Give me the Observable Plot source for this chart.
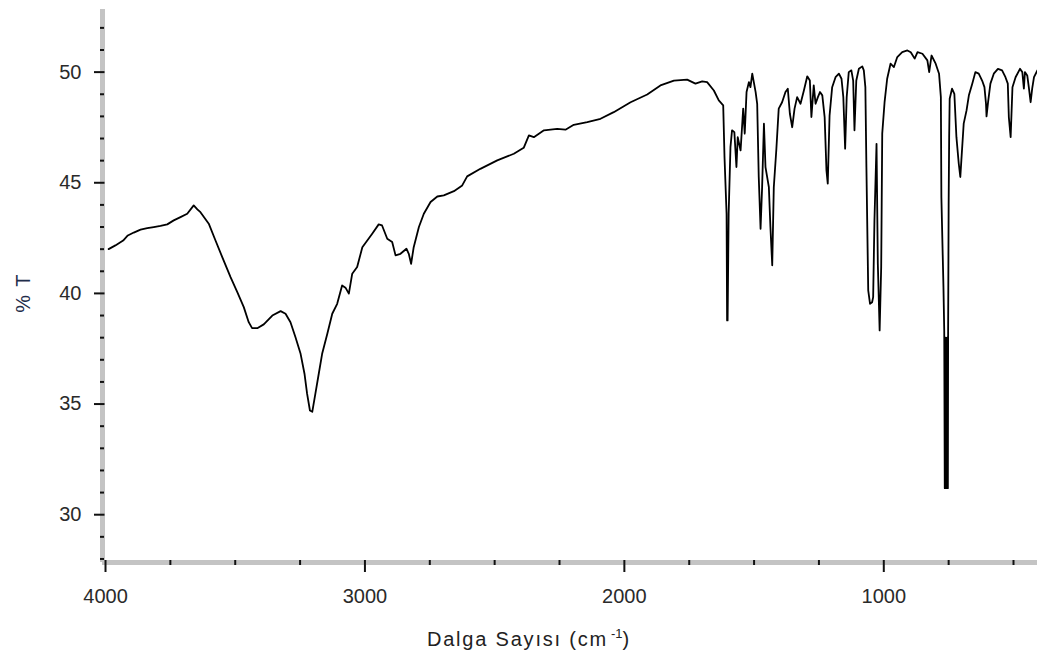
<!DOCTYPE html>
<html>
<head>
<meta charset="utf-8">
<script src="https://cdn.jsdelivr.net/npm/d3@7"></script>
<script src="https://cdn.jsdelivr.net/npm/@observablehq/plot@0.6"></script>
<style>
  html, body { margin: 0; padding: 0; background: #fff; }
  #chart svg { display: block; }
</style>
</head>
<body>
<div id="chart"></div>
<script>
// Wavenumber (cm-1) and % transmittance
const wavenumber = [
  3988, 3962, 3932, 3914, 3891, 3865, 3839, 3814, 3788, 3762, 3737, 3711, 3685, 3660, 3646, 3634,
  3602, 3576, 3550, 3518, 3492, 3467, 3448, 3435, 3415, 3390, 3357, 3325, 3306, 3287, 3268, 3248,
  3233, 3223, 3212, 3203, 3191, 3178, 3165, 3145, 3126, 3107, 3088, 3075, 3062, 3049, 3030, 3010,
  2991, 2972, 2947, 2934, 2914, 2895, 2882, 2863, 2840, 2831, 2822, 2812, 2792, 2773, 2747, 2721,
  2696, 2657, 2625, 2606, 2555, 2490, 2426, 2388, 2368, 2349, 2310, 2259, 2227, 2195, 2143, 2092,
  2041, 1976, 1912, 1861, 1809, 1758, 1726, 1700, 1681, 1655, 1636, 1619, 1614, 1606, 1604, 1602,
  1598, 1591, 1585, 1576, 1568, 1563, 1552, 1542, 1536, 1529, 1520, 1514, 1507, 1501, 1494, 1488,
  1482, 1475, 1469, 1462, 1456, 1443, 1437, 1430, 1424, 1414, 1405, 1392, 1379, 1370, 1362, 1353,
  1344, 1334, 1321, 1308, 1295, 1285, 1279, 1270, 1263, 1254, 1246, 1237, 1228, 1221, 1216, 1209,
  1199, 1186, 1173, 1163, 1156, 1149, 1143, 1135, 1125, 1118, 1113, 1106, 1096, 1083, 1077, 1071,
  1067, 1060, 1053, 1045, 1041, 1036, 1028, 1023, 1016, 1010, 1006, 997, 987, 974, 961, 948,
  929, 909, 896, 881, 870, 851, 832, 825, 816, 800, 787, 780, 778, 770, 767, 765,
  762, 759, 756, 753, 752, 750, 748, 746, 737, 728, 720, 711, 705, 701, 692, 681,
  672, 659, 647, 634, 621, 612, 606, 604, 598, 589, 576, 560, 544, 531, 522, 518,
  511, 504, 492, 475, 466, 460, 456, 447, 441, 434, 428, 421, 408
];
const transmittance = [
  42.0, 42.17, 42.39, 42.62, 42.75, 42.88, 42.95, 43.0, 43.05, 43.12, 43.3, 43.45, 43.6, 43.98, 43.8, 43.67,
  43.15, 42.39, 41.64, 40.74, 40.06, 39.38, 38.7, 38.43, 38.43, 38.6, 39.0, 39.2, 39.08, 38.7, 38.03, 37.27,
  36.37, 35.47, 34.71, 34.65, 35.47, 36.37, 37.27, 38.18, 39.08, 39.53, 40.36, 40.26, 39.99, 40.89, 41.19, 42.09,
  42.39, 42.7, 43.12, 43.07, 42.47, 42.32, 41.72, 41.79, 42.02, 41.79, 41.34, 42.09, 43.0, 43.6, 44.13, 44.38,
  44.43, 44.62, 44.88, 45.29, 45.63, 46.01, 46.31, 46.58, 47.14, 47.06, 47.37, 47.44, 47.4, 47.62, 47.74, 47.89,
  48.19, 48.64, 48.99, 49.4, 49.62, 49.66, 49.48, 49.58, 49.55, 49.17, 48.72, 48.5, 46.16, 43.6, 38.78, 38.78,
  43.6, 46.61, 47.37, 47.29, 45.71, 47.06, 46.46, 48.35, 47.22, 49.1, 49.55, 49.32, 49.93, 49.55, 49.1, 48.57,
  45.26, 42.92, 44.8, 47.67, 45.71, 44.8, 43.0, 41.27, 44.8, 46.54, 48.35, 48.64, 49.1, 49.25, 48.12, 47.51,
  48.35, 48.87, 48.57, 49.17, 49.81, 49.62, 47.97, 49.4, 48.57, 48.87, 49.1, 48.95, 47.97, 45.56, 44.96, 48.04,
  49.32, 49.77, 49.93, 49.7, 48.87, 46.54, 48.87, 50.0, 50.08, 49.62, 47.37, 49.62, 50.15, 50.26, 50.08, 49.32,
  45.71, 40.14, 39.53, 39.6, 39.83, 43.3, 46.76, 41.34, 38.33, 41.19, 47.22, 48.64, 49.7, 50.38, 50.23, 50.68,
  50.9, 50.98, 50.9, 50.61, 50.9, 50.83, 50.53, 50.0, 50.75, 50.38, 49.93, 48.87, 44.35, 40.28, 38.3, 31.2,
  38.0, 31.2, 38.0, 31.2, 38.3, 44.0, 47.06, 48.8, 49.25, 49.02, 47.06, 45.86, 45.26, 46.01, 47.67, 48.27,
  48.95, 49.48, 50.0, 49.93, 49.62, 49.32, 48.57, 48.0, 48.64, 49.48, 49.93, 50.15, 50.08, 49.77, 49.48, 47.97,
  47.06, 49.32, 49.77, 50.15, 50.0, 49.25, 50.0, 49.85, 49.32, 48.64, 49.25, 49.77, 50.08
];

const xDomain = [4011.6, 407.5];
const yDomain = [27.84, 52.83];
const xMajorTicks = [4000, 3000, 2000, 1000];
const xMinorTicks = [3750, 3500, 3250, 2750, 2500, 2250, 1750, 1500, 1250, 750, 500];
const yMajorTicks = [30, 35, 40, 45, 50];
const yMinorTicks = [28, 29, 31, 32, 33, 34, 36, 37, 38, 39, 41, 42, 43, 44, 46, 47, 48, 49, 51, 52];
const xTitle = "Dalga Sayısı (cm";
const xTitleSup = "-1";
const yTitle = "% T";

const spectrum = wavenumber.map((w, i) => ({wn: w, t: transmittance[i]}));

const chart = Plot.plot({
  width: 1037,
  height: 656,
  marginLeft: 102,
  marginRight: 0,
  marginTop: 9,
  marginBottom: 94,
  x: {domain: xDomain},
  y: {domain: yDomain},
  style: {fontFamily: "'Liberation Sans', Arial, sans-serif", fontSize: "20px", background: "#fff", color: "#000"},
  marks: [
    Plot.ruleX([xDomain[0]], {stroke: "#c4c4c4", strokeWidth: 5}),
    Plot.ruleY([yDomain[0]], {stroke: "#c4c4c4", strokeWidth: 5}),
    Plot.axisY({ticks: yMinorTicks, tickSize: 4, dx: 2, tickFormat: () => "", label: null, strokeWidth: 2, stroke: "#111"}),
    Plot.axisY({ticks: yMajorTicks, tickSize: 10.5, dx: 2.5, tickPadding: 13, tickFormat: d3.format("d"), label: null, strokeWidth: 2, stroke: "#111", fill: "#2a2a2a"}),
    Plot.axisX({ticks: xMinorTicks, tickSize: 5, dy: -2, tickFormat: () => "", label: null, strokeWidth: 2, stroke: "#111"}),
    Plot.axisX({ticks: xMajorTicks, tickSize: 12, dy: -2, tickPadding: 16, tickFormat: d3.format("d"), label: null, strokeWidth: 2, stroke: "#111", fill: "#2a2a2a"}),
    Plot.line(spectrum, {x: "wn", y: "t", stroke: "#000", strokeWidth: 1.8})
  ]
});

const svg = d3.select(chart);
const xt = svg.append("text")
  .attr("x", 529).attr("y", 646)
  .attr("text-anchor", "middle")
  .attr("font-size", 20)
  .attr("letter-spacing", "1.8px")
  .attr("fill", "#222");
xt.append("tspan").text(xTitle);
xt.append("tspan").attr("dx", 3).attr("dy", -8).attr("font-size", 13).attr("letter-spacing", "0px").text(xTitleSup);
xt.append("tspan").attr("dy", 8).text(")");

svg.append("text")
  .attr("transform", "translate(30,293) rotate(-90)")
  .attr("text-anchor", "middle")
  .attr("font-size", 20)
  .attr("letter-spacing", "1.5px")
  .attr("fill", "#1f2d4a")
  .text(yTitle);

document.getElementById("chart").appendChild(chart);
</script>
</body>
</html>
